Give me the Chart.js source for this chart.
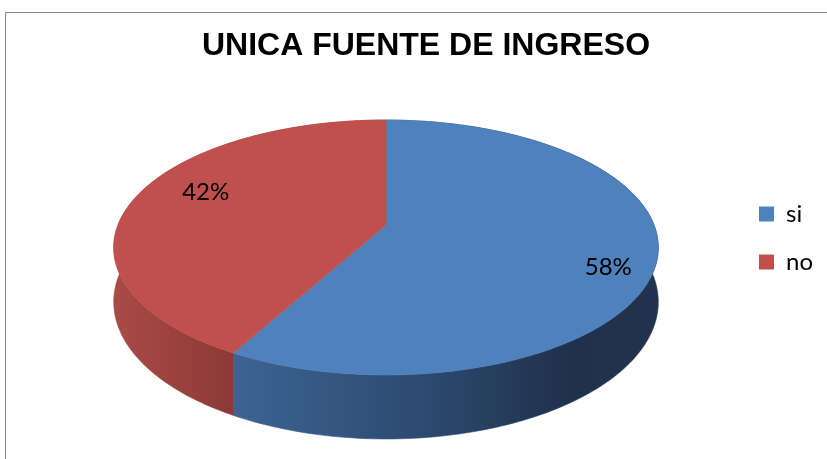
<!DOCTYPE html>
<html>
<head>
<meta charset="utf-8">
<script src="https://cdn.jsdelivr.net/npm/chart.js@4.4.1/dist/chart.umd.min.js"></script>
<style>
  html, body { margin: 0; padding: 0; background: #fff; }
  #wrap { width: 827px; height: 459px; }
</style>
</head>
<body>
<div id="wrap"><canvas id="chart" width="827" height="459"></canvas></div>
<script>
// Datos del grafico
var categorias = ["si", "no"];
var valores = [58, 42];
var colores = ["#4F81BD", "#C0504D"];

// Geometria del pastel 3D (perspectiva tipo Excel)
var geo = {
  cx: 386, cy: 225,   // vertice del pastel
  rx: 268, ry: 123.5,
  persp: 0.1765,      // el frente se ve mas grande que el fondo
  depth: 52.7,        // espesor
  side: [
    [[0, "#3F6797"], [0.22, "#3D6494"], [0.57, "#2D4A70"], [0.83, "#20314B"], [1, "#21334E"]],
    [[0, "#AB4B46"], [0.22, "#8C3A37"], [1, "#7A302E"]]
  ]
};

function proyectar(a, r, d) {
  var u = Math.cos(a) * r, v = Math.sin(a) * r;
  var s = 1 / (1 - geo.persp * v);
  return { x: geo.cx + geo.rx * u * s, y: geo.cy + geo.ry * v * s + geo.depth * d * s };
}

// Borde del area del grafico
var marco = {
  id: 'marco',
  beforeDraw: function(chart) {
    var ctx = chart.ctx;
    ctx.save();
    ctx.strokeStyle = '#868686';
    ctx.lineWidth = 1;
    ctx.beginPath();
    ctx.moveTo(5.5, chart.height);
    ctx.lineTo(5.5, 12.5);
    ctx.lineTo(chart.width, 12.5);
    ctx.stroke();
    ctx.restore();
  }
};

// Dibuja los arcos calculados por Chart.js como pastel 3D
var pastel3d = {
  id: 'pastel3d',
  beforeDatasetDraw: function() { return false; },
  afterDatasetsDraw: function(chart) {
    var ctx = chart.ctx;
    var arcs = chart.getDatasetMeta(0).data;
    var n = 180, k, p;
    ctx.save();

    // paredes
    arcs.forEach(function(arc, i) {
      var a0 = arc.startAngle, a1 = arc.endAngle;
      var g = ctx.createLinearGradient(geo.cx - geo.rx - 8, 0, geo.cx + geo.rx + 8, 0);
      geo.side[i].forEach(function(st) { g.addColorStop(st[0], st[1]); });
      ctx.beginPath();
      for (k = 0; k <= n; k++) {
        p = proyectar(a0 + (a1 - a0) * k / n, 1, 0);
        if (k === 0) ctx.moveTo(p.x, p.y); else ctx.lineTo(p.x, p.y);
      }
      for (k = n; k >= 0; k--) {
        p = proyectar(a0 + (a1 - a0) * k / n, 1, 1);
        ctx.lineTo(p.x, p.y);
      }
      ctx.closePath();
      ctx.fillStyle = g;
      ctx.strokeStyle = g;
      ctx.lineWidth = 0.6;
      ctx.fill();
      ctx.stroke();
    });

    // caras superiores
    arcs.forEach(function(arc) {
      var a0 = arc.startAngle, a1 = arc.endAngle;
      var c = proyectar(0, 0, 0);
      ctx.beginPath();
      ctx.moveTo(c.x, c.y);
      for (k = 0; k <= n; k++) {
        p = proyectar(a0 + (a1 - a0) * k / n, 1, 0);
        ctx.lineTo(p.x, p.y);
      }
      ctx.closePath();
      ctx.fillStyle = arc.options.backgroundColor;
      ctx.strokeStyle = arc.options.backgroundColor;
      ctx.lineWidth = 0.6;
      ctx.fill();
      ctx.stroke();
    });

    // porcentajes
    var total = valores.reduce(function(s, x) { return s + x; }, 0);
    ctx.font = "24px Lato, 'Open Sans', sans-serif";
    ctx.fillStyle = '#000';
    ctx.textAlign = 'center';
    ctx.textBaseline = 'middle';
    arcs.forEach(function(arc, i) {
      var m = (arc.startAngle + arc.endAngle) / 2;
      var u = Math.cos(m), v = Math.sin(m);
      var sx = 1 / (1 - 0.42 * v), sy = 1 / (1 - 0.5 * v);
      ctx.fillText(Math.round(valores[i] / total * 100) + '%',
        geo.cx + geo.rx * u * 0.767 * sx, geo.cy + geo.ry * v * 1.2 * sy);
    });
    ctx.restore();
  }
};

new Chart(document.getElementById('chart'), {
  type: 'pie',
  data: {
    labels: categorias,
    datasets: [{
      data: valores,
      backgroundColor: colores,
      borderWidth: 0
    }]
  },
  options: {
    responsive: false,
    animation: false,
    events: [],
    layout: { padding: { left: 29, right: 4, top: 17 } },
    plugins: {
      title: {
        display: true,
        text: 'UNICA FUENTE DE INGRESO',
        color: '#000',
        font: { family: "'Liberation Sans', Arial, sans-serif", size: 32, weight: 'bold' },
        padding: { top: 10, bottom: 10 }
      },
      legend: {
        position: 'right',
        labels: {
          boxWidth: 15,
          boxHeight: 15,
          padding: 24,
          color: '#000',
          font: { family: "Lato, 'Open Sans', sans-serif", size: 24 }
        }
      },
      tooltip: { enabled: false }
    }
  },
  plugins: [marco, pastel3d]
});
</script>
</body>
</html>
